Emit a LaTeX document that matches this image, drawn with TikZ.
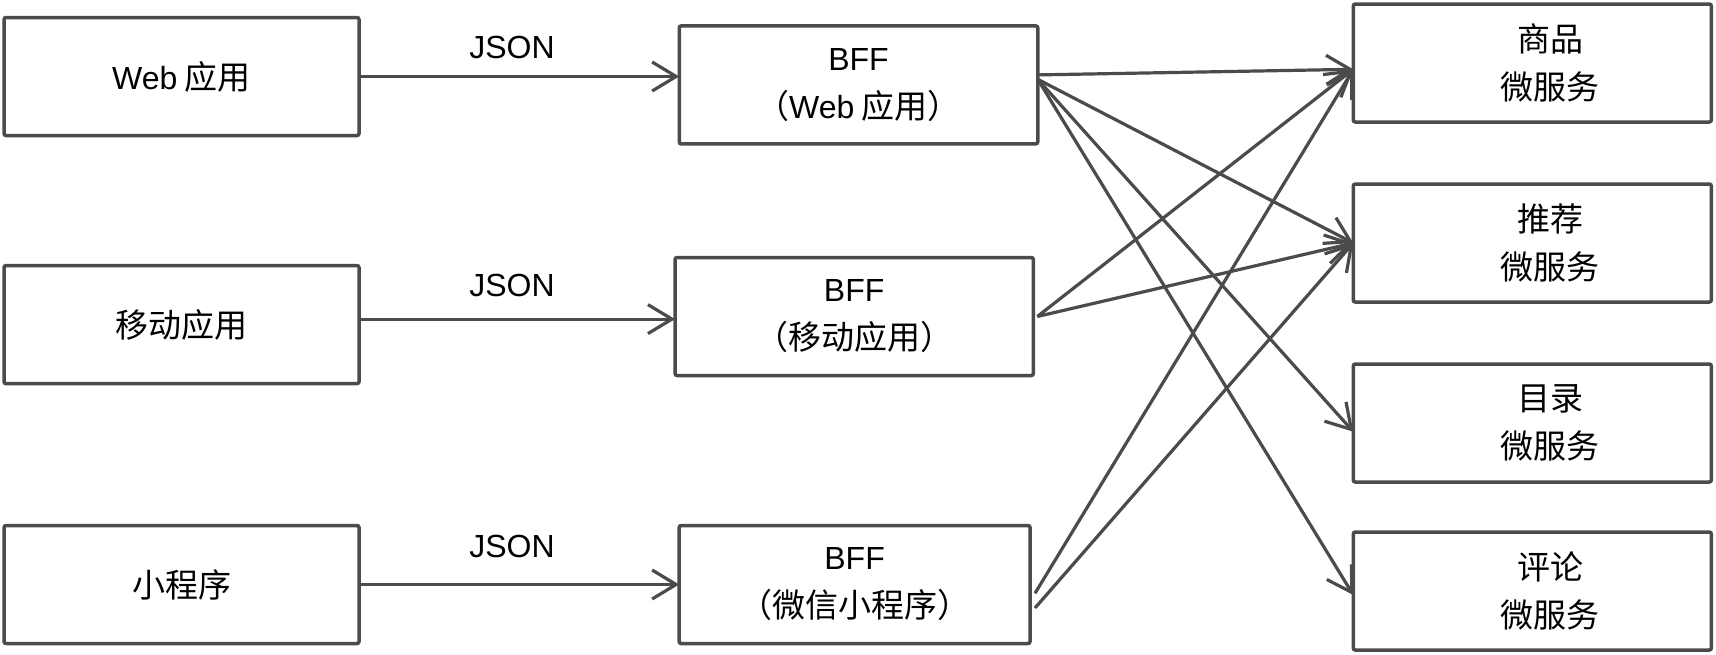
\documentclass[tikz,border=0pt]{standalone}
\usepackage{fontspec}
\setmainfont{Noto Sans CJK SC}
\newfontfamily\lat{Liberation Sans}
\usetikzlibrary{arrows.meta,calc}
\definecolor{linegray}{HTML}{4B4B4B}
\newcommand{\rs}{\hspace*{36pt}}
\tikzset{
  box/.style={draw=linegray, line width=3.5pt, rounded corners=2pt, inner sep=0pt, outer sep=0pt,
    minimum height=118pt, align=center, font=\fontsize{33pt}{48pt}\selectfont, text=black},
  lbl/.style={inner sep=0pt, font=\fontsize{32pt}{48pt}\selectfont\lat, text=black},
  conn/.style={draw=linegray, line width=3.2pt, -{Straight Barb[length=24pt,width=29pt]}}
}
\begin{document}
\begin{tikzpicture}[x=1pt,y=-1pt]
\useasboundingbox (0,0) rectangle (1716,654);
% left column
\node[box, minimum width=355pt] (L1) at (181.5,76.5) {{\lat\fontsize{32pt}{48pt}\selectfont Web} 应用};
\node[box, minimum width=355pt] (L2) at (181.5,324.6) {移动应用};
\node[box, minimum width=355pt] (L3) at (181.5,584.5) {小程序};
% middle column
\node[box, minimum width=358.5pt] (M1) at (858.5,84.9) {{\lat\fontsize{32pt}{48pt}\selectfont BFF}\\（{\lat\fontsize{32pt}{48pt}\selectfont Web} 应用）};
\node[box, minimum width=358.3pt] (M2) at (854.2,316.5) {{\lat\fontsize{32pt}{48pt}\selectfont BFF}\\（移动应用）};
\node[box, minimum width=350.8pt] (M3) at (854.6,584.5) {{\lat\fontsize{32pt}{48pt}\selectfont BFF}\\（微信小程序）};
% right column
\node[box, minimum width=358pt] (R1) at (1532.3,63) {\rs 商品\\\rs 微服务};
\node[box, minimum width=358pt] (R2) at (1532.3,243) {\rs 推荐\\\rs 微服务};
\node[box, minimum width=358pt] (R3) at (1532.3,423) {\rs 目录\\\rs 微服务};
\node[box, minimum width=358pt] (R4) at (1532.3,591) {\rs 评论\\\rs 微服务};
% JSON labels
\node[lbl] (j1) at (512,47) {JSON};
\node[lbl] (j2) at (512,285.8) {JSON};
\node[lbl] (j3) at (512,546.3) {JSON};
% client -> BFF
\draw[conn] (L1.east) -- (L1.east -| M1.west);
\draw[conn] ([yshift=5.5pt]L2.east) -- ([yshift=5.5pt]L2.east -| M2.west);
\draw[conn] (L3.east) -- (M3.west);
% BFF web -> services
\draw[conn] ([yshift=10pt]M1.east) -- ([yshift=-6.3pt]R1.west);
\draw[conn] ([yshift=5.6pt]M1.east) -- (R2.west);
\draw[conn] ([yshift=5.6pt]M1.east) -- ([yshift=-8.7pt]R3.west);
\draw[conn] ([yshift=5.6pt]M1.east) -- ([yshift=-4pt]R4.west);
% BFF mobile -> services
\draw[conn] ([xshift=4pt]M2.east) -- ([yshift=-6.3pt]R1.west);
\draw[conn] ([xshift=4pt]M2.east) -- (R2.west);
% BFF mini -> services
\draw[conn] ([shift={(5pt,-8.8pt)}]M3.east) -- ([yshift=-6.3pt]R1.west);
\draw[conn] ([shift={(5pt,-23.5pt)}]M3.east) -- (R2.west);
\end{tikzpicture}
\end{document}
